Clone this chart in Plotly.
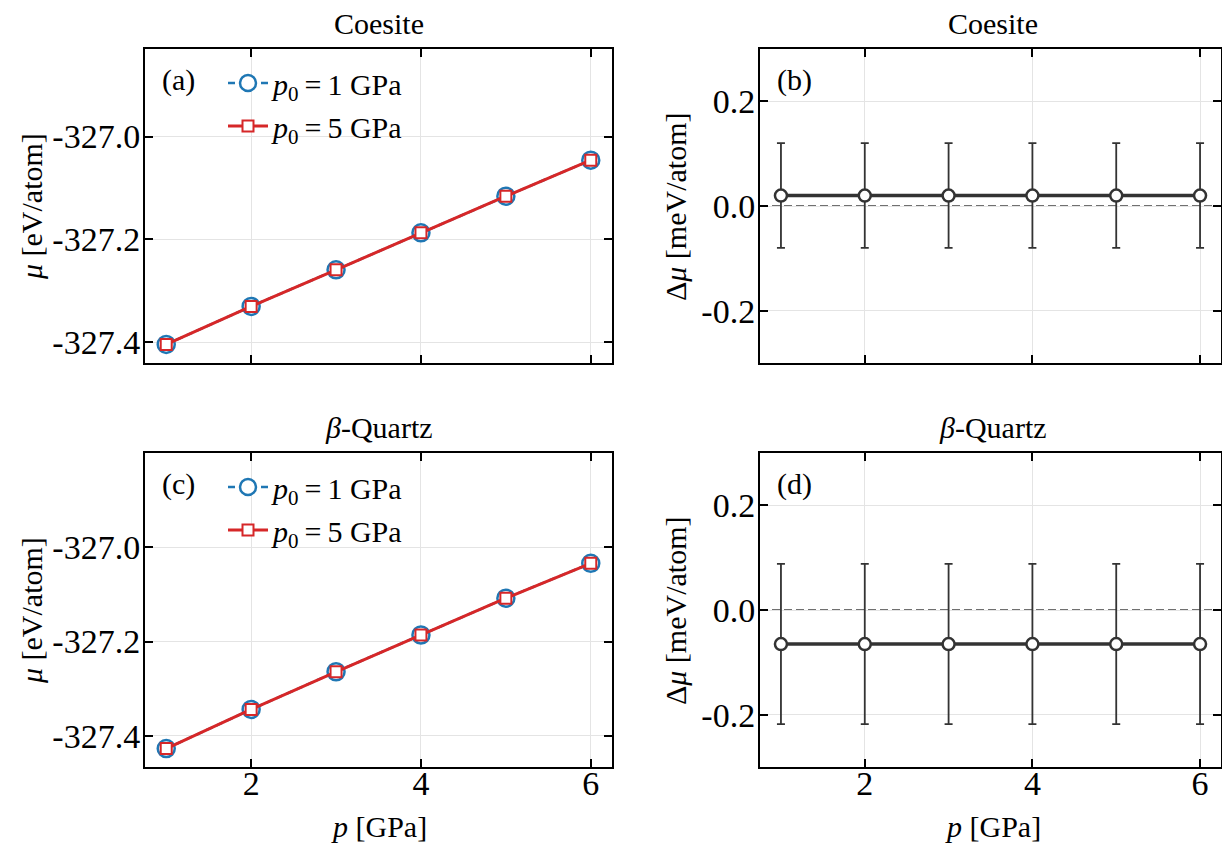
import plotly.graph_objects as go
from plotly.subplots import make_subplots

# ---------------- data ----------------
pressure = [1, 2, 3, 4, 5, 6]

coesite_mu_p1 = [-327.404, -327.330, -327.259, -327.187, -327.116, -327.046]
coesite_mu_p5 = [-327.404, -327.330, -327.259, -327.187, -327.116, -327.046]
coesite_mu_err = [0.0001, 0.0001, 0.0001, 0.0001, 0.0001, 0.0001]

quartz_mu_p1 = [-327.427, -327.344, -327.264, -327.186, -327.108, -327.034]
quartz_mu_p5 = [-327.427, -327.344, -327.264, -327.186, -327.108, -327.034]
quartz_mu_err = [0.00015, 0.00015, 0.00015, 0.00015, 0.00015, 0.00015]

coesite_dmu = [0.02, 0.02, 0.02, 0.02, 0.02, 0.02]
coesite_dmu_err = [0.10, 0.10, 0.10, 0.10, 0.10, 0.10]
quartz_dmu = [-0.065, -0.065, -0.065, -0.065, -0.065, -0.065]
quartz_dmu_err = [0.153, 0.153, 0.153, 0.153, 0.153, 0.153]

x_ticks = [2, 4, 6]
x_ticktext = ["2", "4", "6"]
mu_ticks = [-327.4, -327.2, -327.0]
mu_ticktext = ["-327.4", "-327.2", "-327.0"]
dmu_ticks = [-0.2, 0.0, 0.2]
dmu_ticktext = ["-0.2", "0.0", "0.2"]

titles = ["Coesite", "Coesite", "<i>β</i>-Quartz", "<i>β</i>-Quartz"]
panel_labels = ["(a)", "(b)", "(c)", "(d)"]
legend_labels = ["<i>p</i><sub>0</sub>\u2009=\u20091 GPa", "<i>p</i><sub>0</sub>\u2009=\u20095 GPa"]

# ---------------- style ----------------
W, H = 1222, 845
FONT = "Liberation Serif"
FS = 30
TFS = 34
BLUE = "#1f77b4"
RED = "#d62728"
DARK = "#333333"
GRID = "#e4e4e4"

# panel pixel boxes (left, right, top, bottom)
boxes = {
    (1, 1): (145, 612, 49, 363),
    (1, 2): (760, 1221, 49, 363),
    (2, 1): (145, 612, 453, 767),
    (2, 2): (760, 1221, 453, 767),
}

def px_x(v):
    return v / W

def px_y(v):
    return 1 - v / H

fig = make_subplots(rows=2, cols=2)

# ---- mu panels ----
for row, (mu1, mu5, err, leg) in enumerate(
    [(coesite_mu_p1, coesite_mu_p5, coesite_mu_err, "legend"),
     (quartz_mu_p1, quartz_mu_p5, quartz_mu_err, "legend2")], start=1):
    fig.add_trace(go.Scatter(
        x=pressure, y=mu1, mode="lines+markers", name=legend_labels[0],
        line=dict(color=BLUE, width=2.5, dash="7px,4px"),
        marker=dict(symbol="circle", size=17, color="white",
                    line=dict(color=BLUE, width=2.5)),
        error_y=dict(type="data", array=err, color=BLUE, thickness=2, width=4),
        legend=leg, legendgroup=f"g1{row}",
    ), row=row, col=1)
    fig.add_trace(go.Scatter(
        x=pressure, y=mu5, mode="lines+markers", name=legend_labels[1],
        line=dict(color=RED, width=3),
        marker=dict(symbol="square", size=11, color="white",
                    line=dict(color=RED, width=2)),
        error_y=dict(type="data", array=err, color=RED, thickness=2, width=4),
        legend=leg, legendgroup=f"g5{row}",
    ), row=row, col=1)

# ---- delta mu panels ----
for row, (d, e) in enumerate([(coesite_dmu, coesite_dmu_err),
                              (quartz_dmu, quartz_dmu_err)], start=1):
    fig.add_trace(go.Scatter(
        x=pressure, y=d, mode="lines+markers", showlegend=False,
        line=dict(color=DARK, width=3.5),
        marker=dict(symbol="circle", size=12, color="white",
                    line=dict(color=DARK, width=2.5)),
        error_y=dict(type="data", array=e, color=DARK, thickness=1.8, width=4),
    ), row=row, col=2)

axis_common = dict(
    showline=True, linecolor="black", linewidth=2, mirror="ticks",
    ticks="inside", ticklen=8, tickwidth=2, tickcolor="black",
    showgrid=True, gridcolor=GRID, gridwidth=1, zeroline=False,
    tickfont=dict(family=FONT, size=TFS, color="black"),
)

for (r, c), (l, rgt, t, b) in boxes.items():
    idx = (r - 1) * 2 + c
    xa = "xaxis" if idx == 1 else f"xaxis{idx}"
    ya = "yaxis" if idx == 1 else f"yaxis{idx}"
    fig.layout[xa].update(
        domain=[px_x(l), px_x(rgt)], range=[0.75, 6.25],
        tickvals=x_ticks, ticktext=x_ticktext, showticklabels=(r == 2),
        ticklabelstandoff=-15, **axis_common)
    if c == 1:
        yr = [-327.44, -326.83] if r == 1 else [-327.466, -326.80]
        fig.layout[ya].update(domain=[px_y(b), px_y(t)], range=yr,
                              tickvals=mu_ticks, ticktext=mu_ticktext,
                              ticklabelstandoff=-4, **axis_common)
    else:
        fig.layout[ya].update(domain=[px_y(b), px_y(t)], range=[-0.3, 0.3],
                              tickvals=dmu_ticks, ticktext=dmu_ticktext,
                              ticklabelstandoff=-4, **axis_common)
        xref = f"x{idx} domain"
        fig.add_shape(type="line", xref=xref, yref=f"y{idx}", x0=0, x1=1, y0=0, y1=0,
                      line=dict(color="#707070", width=1.8, dash="8px,4px"), layer="below")

annos = []
for (r, c), (l, rgt, t, b), title, lab in zip(boxes.keys(), boxes.values(), titles, panel_labels):
    cx = (l + 1225 if c == 2 else l + rgt) / 2
    annos.append(dict(text=title, x=px_x(cx), y=px_y(t - 26), xref="paper", yref="paper",
                      showarrow=False, xanchor="center", yanchor="middle",
                      font=dict(family=FONT, size=FS, color="black")))
    annos.append(dict(text=lab, x=px_x(l + 15), y=px_y(t + 31), xref="paper", yref="paper",
                      showarrow=False, xanchor="left", yanchor="middle",
                      font=dict(family=FONT, size=FS, color="black")))
    if r == 2:
        annos.append(dict(text="<i>p</i> [GPa]", x=px_x(cx), y=px_y(826), xref="paper", yref="paper",
                          showarrow=False, xanchor="center", yanchor="middle",
                          font=dict(family=FONT, size=FS, color="black")))
    ylab = "<i>μ</i> [eV/atom]" if c == 1 else "Δ<i>μ</i> [meV/atom]"
    ylx = 31 if c == 1 else 675
    annos.append(dict(text=ylab, x=px_x(ylx), y=px_y((t + b) / 2 + 1), xref="paper", yref="paper",
                      showarrow=False, xanchor="center", yanchor="middle", textangle=-90,
                      font=dict(family=FONT, size=FS, color="black")))

legend_common = dict(
    xref="paper", yref="paper", xanchor="left", yanchor="top",
    bgcolor="rgba(0,0,0,0)", borderwidth=0, itemwidth=40,
    traceorder="grouped", tracegroupgap=1,
    font=dict(family=FONT, size=FS, color="black"),
)

fig.update_layout(
    width=W, height=H, margin=dict(l=0, r=0, t=0, b=0),
    paper_bgcolor="white", plot_bgcolor="white",
    annotations=annos,
    legend=dict(x=px_x(223), y=px_y(57), **legend_common),
    legend2=dict(x=px_x(223), y=px_y(461), **legend_common),
    showlegend=True,
)

fig.write_html("out.html")
